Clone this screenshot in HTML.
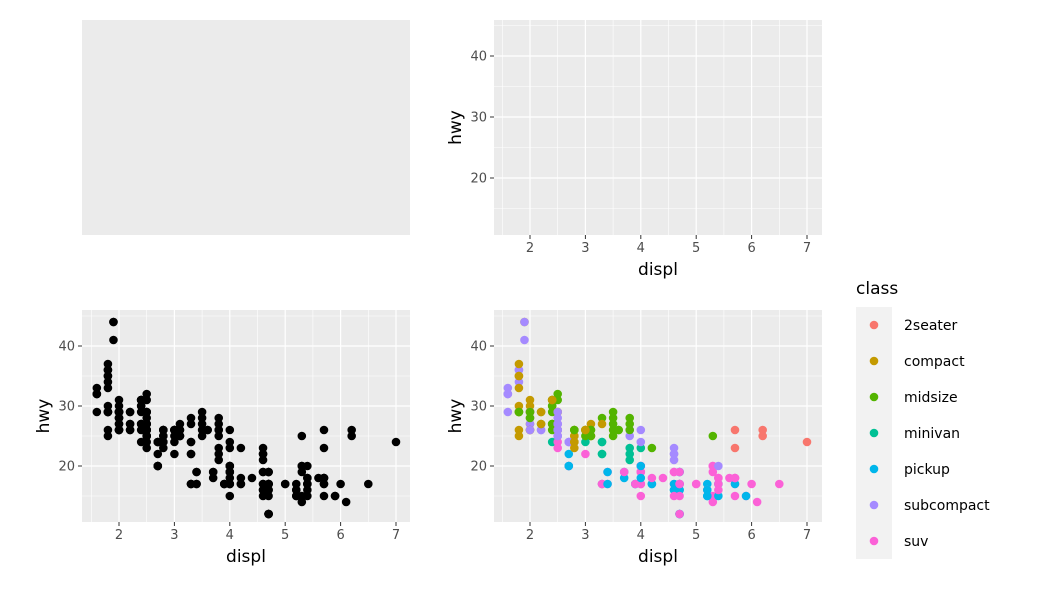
<!DOCTYPE html>
<html><head><meta charset="utf-8"><style>
body{margin:0;background:#fff;width:1050px;height:600px;overflow:hidden}
svg text{font-family:"DejaVu Sans","Liberation Sans",sans-serif}
</style></head><body>
<svg id="c" width="1050" height="600" xmlns="http://www.w3.org/2000/svg"></svg>
<script>
const classes=["2seater","compact","midsize","minivan","pickup","subcompact","suv"];
const colors=["#F8766D","#C49A00","#53B400","#00C094","#00B6EB","#A58AFF","#FB61D7"];
const xTicks=[2,3,4,5,6,7];
const yTicks=[20,30,40];
const displ=[1.8,1.8,2,2,2.8,2.8,3.1,1.8,1.8,2,2,2.8,2.8,3.1,3.1,2.8,3.1,4.2,5.3,5.3,5.3,5.7,6,5.7,5.7,6.2,6.2,7,5.3,5.3,5.7,6.5,2.4,2.4,3.1,3.5,3.6,2.4,3,3.3,3.3,3.3,3.3,3.3,3.8,3.8,3.8,4,3.7,3.7,3.9,3.9,4.7,4.7,4.7,5.2,5.2,3.9,4.7,4.7,4.7,5.2,5.7,5.9,4.7,4.7,4.7,4.7,4.7,4.7,5.2,5.2,5.7,5.9,4.6,5.4,5.4,4,4,4,4,4.6,5,4.2,4.2,4.6,4.6,4.6,5.4,5.4,3.8,3.8,4,4,4.6,4.6,4.6,4.6,5.4,1.6,1.6,1.6,1.6,1.6,1.8,1.8,1.8,2,2.4,2.4,2.4,2.4,2.5,2.5,3.3,2,2,2,2,2.7,2.7,2.7,3,3.7,4,4.7,4.7,4.7,5.7,6.1,4,4.2,4.4,4.6,5.4,5.4,5.4,4,4,4.6,5,2.4,2.4,2.5,2.5,3.5,3.5,3,3,3.5,3.3,3.3,4,5.6,3.1,3.8,3.8,3.8,5.3,2.5,2.5,2.5,2.5,2.5,2.5,2.2,2.2,2.5,2.5,2.5,2.5,2.5,2.5,2.7,2.7,3.4,3.4,4,4.7,2.2,2.2,2.4,2.4,3,3,3.5,2.2,2.2,2.4,2.4,3,3,3.3,1.8,1.8,1.8,1.8,1.8,4.7,5.7,2.7,2.7,2.7,3.4,3.4,4,4,2,2,2,2,2.8,1.9,2,2,2,2,2.5,2.5,2.8,2.8,1.9,1.9,2,2,2.5,2.5,1.8,1.8,2,2,2.8,2.8,3.6];
const hwy=[29,29,31,30,26,26,27,26,25,28,27,25,25,25,25,24,25,23,20,15,20,17,17,26,23,26,25,24,19,14,15,17,27,30,26,29,26,24,24,22,22,24,24,17,22,21,23,23,19,18,17,17,19,19,12,17,15,17,17,12,17,16,18,15,16,12,17,17,16,12,15,16,17,15,17,17,18,17,19,17,19,19,17,17,17,16,16,17,15,17,26,25,26,24,21,22,23,22,20,33,32,32,29,32,34,36,36,29,26,27,30,31,26,26,28,26,29,28,27,24,24,24,22,19,20,17,12,19,18,14,15,18,18,15,17,16,18,17,19,19,17,29,27,31,32,27,26,26,25,25,17,17,20,18,26,26,27,28,25,25,24,27,25,26,23,26,26,26,26,25,27,25,27,20,20,19,17,20,17,29,27,31,31,26,26,28,27,29,31,31,26,26,27,30,33,35,37,35,15,18,20,20,22,17,19,18,20,29,26,29,29,24,44,29,26,29,29,29,29,23,24,44,41,29,26,28,29,29,29,28,29,26,26,26];
const cls=[1,1,1,1,1,1,1,1,1,1,1,1,1,1,1,2,2,2,6,6,6,6,6,0,0,0,0,0,6,6,6,6,2,2,2,2,2,3,3,3,3,3,3,3,3,3,3,3,4,4,4,4,4,4,4,4,4,6,6,6,6,6,6,6,4,4,4,4,4,4,4,4,4,4,6,6,6,6,6,6,6,6,6,4,4,4,4,4,4,4,5,5,5,5,5,5,5,5,5,5,5,5,5,5,5,5,5,5,2,2,2,2,2,2,2,5,5,5,5,5,5,5,6,6,6,6,6,6,6,6,6,6,6,6,6,6,6,6,6,6,6,2,2,2,2,2,2,2,2,2,6,6,6,6,2,2,2,2,2,6,6,6,6,6,6,5,5,5,5,5,5,5,5,6,6,6,6,6,6,2,2,2,2,2,2,2,1,1,1,1,1,1,1,1,1,1,1,1,6,6,4,4,4,4,4,4,4,1,1,1,1,1,1,1,1,1,1,1,1,1,1,5,5,5,5,5,5,2,2,2,2,2,2,2];

const svg=document.getElementById('c');
const NS="http://www.w3.org/2000/svg";
function mk(tag,attrs,parent){const e=document.createElementNS(NS,tag);for(const k in attrs)e.setAttribute(k,attrs[k]);(parent||svg).appendChild(e);return e;}

// top-left empty panel
const tl=mk('rect',{x:82,y:20,width:328,height:215,fill:'#EBEBEB'});



function panel(px,py,w,h,x0,xpx,yTickPx,yPerUnit,name){
  const g=mk('g',{});
  
  
  const sx=v=>x0+(v-2)*xpx;
  const sy=v=>yTickPx-(v-20)*yPerUnit;
  mk('rect',{x:px,y:py,width:w,height:h,fill:'#EBEBEB'},g);
  const minor=[];
  for(let v=1.5;v<=7.5;v++)minor.push(v);
  minor.forEach(v=>{const X=sx(v);if(X>px&&X<px+w)mk('line',{x1:X,x2:X,y1:py,y2:py+h,stroke:'#fff','stroke-width':0.6},g);});
  [15,25,35,45].forEach(v=>{const Y=sy(v);if(Y>py&&Y<py+h)mk('line',{x1:px,x2:px+w,y1:Y,y2:Y,stroke:'#fff','stroke-width':0.6},g);});
  xTicks.forEach(v=>{const X=sx(v);
    mk('line',{x1:X,x2:X,y1:py,y2:py+h,stroke:'#fff','stroke-width':1.2},g);
    mk('line',{x1:X,x2:X,y1:py+h,y2:py+h+4,stroke:'#333','stroke-width':1},g);
    const t=mk('text',{x:X,y:py+h+17,'text-anchor':'middle','font-size':13,fill:'#4D4D4D'},g);t.textContent=v;
    
    
  });
  yTicks.forEach(v=>{const Y=sy(v);
    mk('line',{x1:px,x2:px+w,y1:Y,y2:Y,stroke:'#fff','stroke-width':1.2},g);
    mk('line',{x1:px-4,x2:px,y1:Y,y2:Y,stroke:'#333','stroke-width':1},g);
    const t=mk('text',{x:px-7,y:Y+4.5,'text-anchor':'end','font-size':13,fill:'#4D4D4D'},g);t.textContent=v;
    
    
  });
  const xt=mk('text',{x:px+w/2,y:py+h+40,'text-anchor':'middle','font-size':17,fill:'#000'},g);xt.textContent='displ';
  
  
  const yt=mk('text',{x:0,y:0,'text-anchor':'middle','font-size':17,fill:'#000',transform:`translate(${px-33},${py+h/2}) rotate(-90)`},g);yt.textContent='hwy';
  
  
  return {g,sx,sy};
}

panel(494,20,328,215,530,55.4,178,6.1,'axes-only-panel');
const bl=panel(82,310,328,212,119,55.4,466,6.0,'black-scatter-panel');
const br=panel(494,310,328,212,530,55.4,466,6.0,'class-scatter-panel');

for(let i=0;i<displ.length;i++){
  const p=mk('circle',{cx:bl.sx(displ[i]),cy:bl.sy(hwy[i]),r:4.3,fill:'#000'},bl.g);
  
  
}
for(let i=0;i<displ.length;i++){
  const p=mk('circle',{cx:br.sx(displ[i]),cy:br.sy(hwy[i]),r:4.3,fill:colors[cls[i]]},br.g);
  
  
}

// legend
const lg=mk('g',{});


const lt=mk('text',{x:856,y:294,'font-size':17,fill:'#000'},lg);lt.textContent='class';


classes.forEach((c,i)=>{
  const y=325+i*36;
  const e=mk('g',{},lg);
  
  
  mk('rect',{x:856,y:y-18,width:36,height:36,fill:'#F2F2F2'},e);
  mk('circle',{cx:874,cy:y,r:4.3,fill:colors[i]},e);
  const t=mk('text',{x:904,y:y+5,'font-size':14,fill:'#000'},e);t.textContent=c;
});
</script>
</body></html>
